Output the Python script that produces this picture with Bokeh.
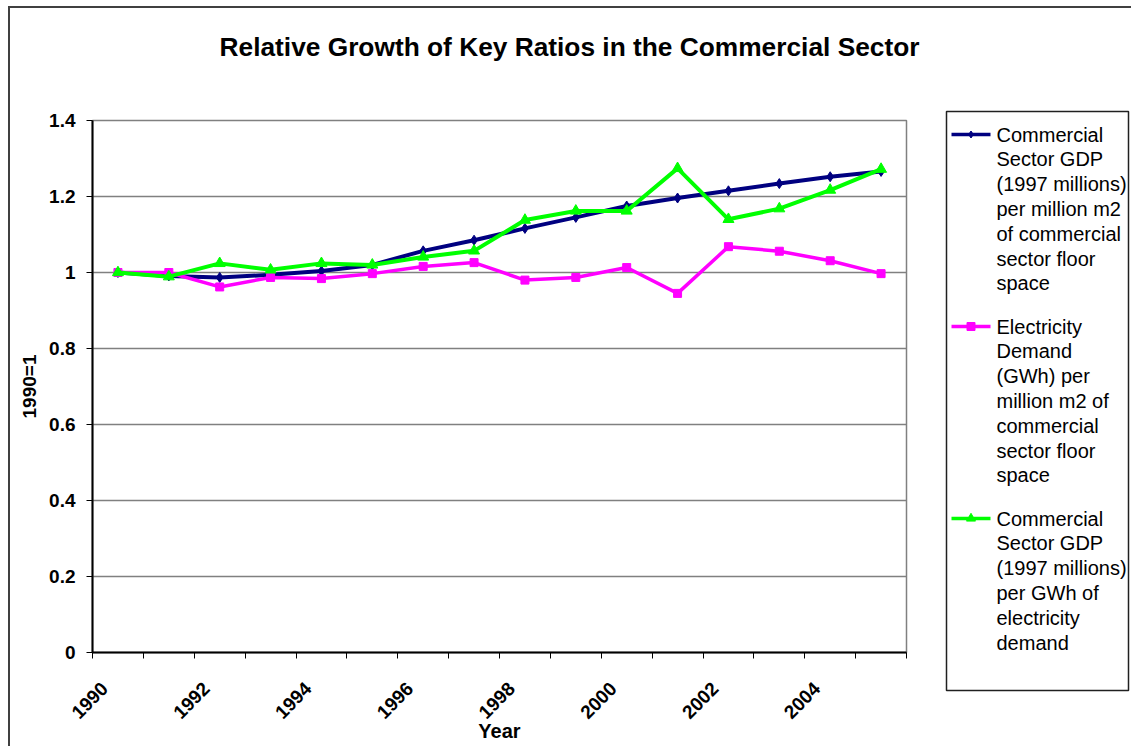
import math
from bokeh.plotting import figure
from bokeh.models import Range1d, FixedTicker, NumeralTickFormatter
from bokeh.layouts import row, column
from bokeh.core.properties import value
from bokeh.embed import file_html
from bokeh.resources import INLINE

# ---------------- data ----------------
years = [1990, 1991, 1992, 1993, 1994, 1995, 1996, 1997,
         1998, 1999, 2000, 2001, 2002, 2003, 2004, 2005]
gdp_per_floor = [1.000, 0.991, 0.987, 0.994, 1.004, 1.020, 1.057, 1.085,
                 1.116, 1.145, 1.175, 1.196, 1.215, 1.234, 1.252, 1.266]
elec_per_floor = [1.000, 1.000, 0.962, 0.987, 0.984, 0.997, 1.016, 1.026,
                  0.980, 0.987, 1.013, 0.945, 1.068, 1.056, 1.031, 0.997]
gdp_per_elec = [1.000, 0.989, 1.024, 1.007, 1.024, 1.020, 1.041, 1.057,
                1.138, 1.162, 1.162, 1.274, 1.140, 1.168, 1.217, 1.272]
label_years = [1990, 1992, 1994, 1996, 1998, 2000, 2002, 2004]
y_ticks = [0, 0.2, 0.4, 0.6, 0.8, 1.0, 1.2, 1.4]

title_text = "Relative Growth of Key Ratios in the Commercial Sector"
series_names = [
    ["Commercial", "Sector GDP", "(1997 millions)", "per million m2",
     "of commercial", "sector floor", "space"],
    ["Electricity", "Demand", "(GWh) per", "million m2 of",
     "commercial", "sector floor", "space"],
    ["Commercial", "Sector GDP", "(1997 millions)", "per GWh of",
     "electricity", "demand"],
]
series_colors = ["#000080", "#FF00FF", "#00FF00"]
series_markers = ["diamond", "square", "triangle"]

FONT = "Liberation Sans"
TOTAL_W = 1121
TITLE_H = 100
H = 638

# ---------------- title strip ----------------
tf = figure(width=TOTAL_W, height=TITLE_H,
            min_border_left=0, min_border_right=0,
            min_border_top=0, min_border_bottom=0,
            x_range=Range1d(0, TOTAL_W), y_range=Range1d(TITLE_H, 0),
            x_axis_type=None, y_axis_type=None, frame_align=False,
            output_backend="svg", toolbar_location=None)
tf.xgrid.visible = False
tf.ygrid.visible = False
tf.outline_line_color = None
tf.text(x=[559], y=[38], text=[title_text], text_font=value(FONT),
        text_font_size="26.3px", text_font_style="bold",
        text_align="center", text_baseline="middle", text_color="black")

# ---------------- main chart ----------------
p = figure(width=898, height=H,
           min_border_left=82, min_border_right=2,
           min_border_top=12, min_border_bottom=H - 12 - 532,
           x_range=Range1d(1989.5, 2005.5), y_range=Range1d(0, 1.4),
           frame_align=False,
           output_backend="svg", toolbar_location=None)

p.outline_line_color = "#808080"
p.outline_line_width = 1.5
p.xgrid.visible = False
p.ygrid.ticker = FixedTicker(ticks=y_ticks)
p.ygrid.grid_line_color = "#808080"
p.ygrid.grid_line_width = 1.5

# y axis
ya = p.yaxis[0]
ya.ticker = FixedTicker(ticks=y_ticks)
ya.formatter = NumeralTickFormatter(format="0.[0]")
ya.axis_line_color = "black"
ya.axis_line_width = 2
ya.major_tick_out = 6
ya.major_tick_in = 0
ya.minor_tick_out = 0
ya.minor_tick_in = 0
ya.major_tick_line_color = "black"
ya.major_label_standoff = 11
ya.major_label_text_font = FONT
ya.major_label_text_font_size = "19px"
ya.major_label_text_font_style = "bold"
ya.major_label_text_color = "black"
ya.axis_label = "1990=1"
ya.axis_label_text_font = FONT
ya.axis_label_text_font_size = "19px"
ya.axis_label_text_font_style = "bold"
ya.axis_label_text_color = "black"
ya.axis_label_standoff = 6

# x axis: tick marks at category boundaries (minor), labels shifted (major)
xa = p.xaxis[0]
xa.ticker = FixedTicker(ticks=[y - 0.26 for y in label_years],
                        minor_ticks=[y - 0.5 for y in years] + [years[-1] + 0.5])
xa.formatter = NumeralTickFormatter(format="0")
xa.axis_line_color = "black"
xa.axis_line_width = 2
xa.major_tick_out = 0
xa.major_tick_in = 0
xa.minor_tick_out = 6
xa.minor_tick_in = 0
xa.minor_tick_line_color = "black"
xa.major_label_orientation = math.pi / 4
xa.major_label_standoff = 27
xa.major_label_text_font = FONT
xa.major_label_text_font_size = "19px"
xa.major_label_text_font_style = "bold"
xa.major_label_text_color = "black"
xa.axis_label = "Year"
xa.axis_label_text_font = FONT
xa.axis_label_text_font_size = "20px"
xa.axis_label_text_font_style = "bold"
xa.axis_label_text_color = "black"
xa.axis_label_standoff = -8

all_series = [gdp_per_floor, elec_per_floor, gdp_per_elec]
line_widths = [4, 3.5, 4]
marker_sizes = [10, 8, 11]
for vals, col, mk, lw, ms in zip(all_series, series_colors, series_markers,
                                 line_widths, marker_sizes):
    p.line(years, vals, line_color=col, line_width=lw)
    p.scatter(years, vals, marker=mk, size=ms, fill_color=col, line_color=col)

# ---------------- legend panel ----------------
LW, LH = 182, 579
lg = figure(width=TOTAL_W - 898, height=H,
            min_border_left=38, min_border_right=TOTAL_W - 898 - 38 - LW,
            min_border_top=3, min_border_bottom=H - 3 - LH,
            x_range=Range1d(0, LW), y_range=Range1d(LH, 0),
            x_axis_type=None, y_axis_type=None, frame_align=False,
            output_backend="svg", toolbar_location=None)
lg.xgrid.visible = False
lg.ygrid.visible = False
lg.outline_line_color = "#202020"
lg.outline_line_width = 1.5

line_step = 24.8
item_gap = 18.4
y0 = 23.0
for lines, col, mk, ms in zip(series_names, series_colors, series_markers, [7, 8, 9]):
    lg.line([5, 44], [y0, y0], line_color=col, line_width=3.5)
    lg.scatter([24.5], [y0], marker=mk, size=ms, fill_color=col, line_color=col)
    ys = [y0 + k * line_step for k in range(len(lines))]
    lg.text(x=[50] * len(lines), y=ys, text=lines,
            text_font=value(FONT), text_font_size="20px",
            text_baseline="middle", text_align="left", text_color="black")
    y0 += len(lines) * line_step + item_gap

layout = column(tf, row(p, lg, spacing=0), spacing=0,
                styles={"margin-left": "8px", "margin-top": "6px",
                        "border-left": "2px solid #404040",
                        "border-top": "2px solid #404040"})

open("out.html", "w").write(file_html(layout, INLINE))
